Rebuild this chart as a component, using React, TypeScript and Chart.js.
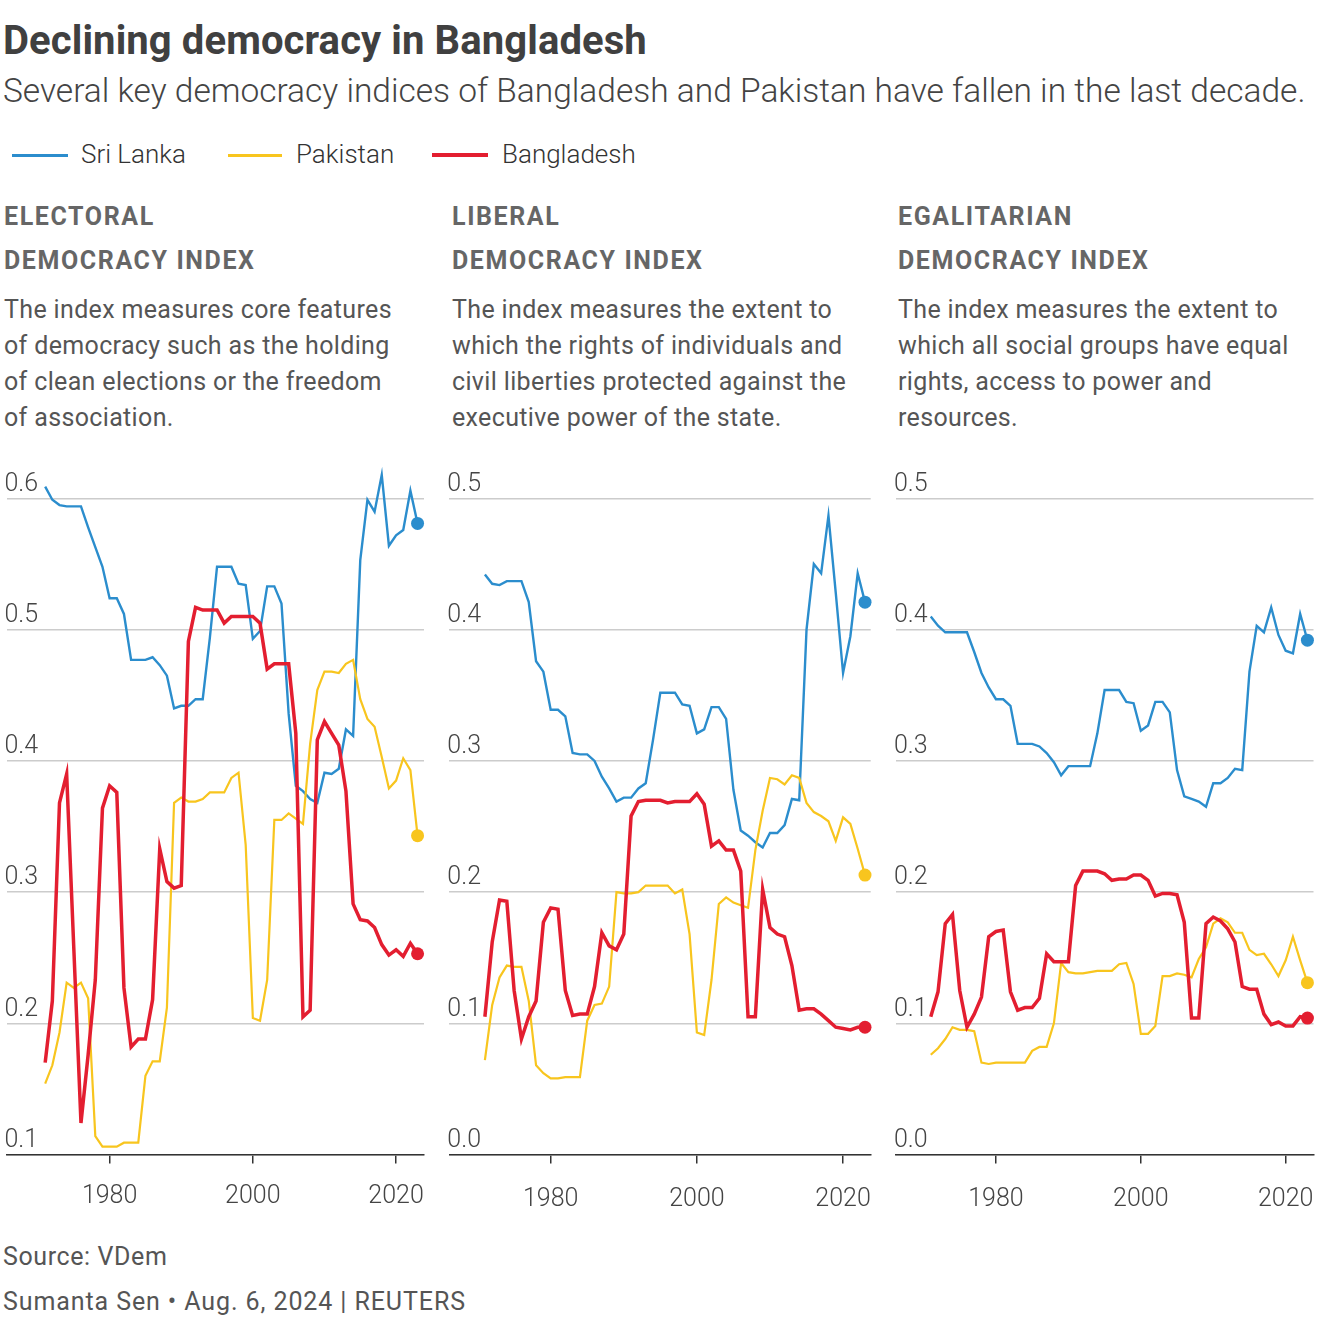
import React, { useEffect, useRef } from "react";
import { Chart, registerables } from "chart.js";

Chart.register(...registerables);

// ---------- DATA ----------
const years = [
  1971, 1972, 1973, 1974, 1975, 1976, 1977, 1978, 1979, 1980,
  1981, 1982, 1983, 1984, 1985, 1986, 1987, 1988, 1989, 1990,
  1991, 1992, 1993, 1994, 1995, 1996, 1997, 1998, 1999, 2000,
  2001, 2002, 2003, 2004, 2005, 2006, 2007, 2008, 2009, 2010,
  2011, 2012, 2013, 2014, 2015, 2016, 2017, 2018, 2019, 2020,
  2021, 2022, 2023,
];

const xTickYears = [1980, 2000, 2020];
const electoralYTicks = [0.1, 0.2, 0.3, 0.4, 0.5, 0.6];
const otherYTicks = [0.0, 0.1, 0.2, 0.3, 0.4, 0.5];

const electoralSriLanka = [
  0.609, 0.599, 0.595, 0.594, 0.594, 0.594, 0.578, 0.563, 0.548, 0.524,
  0.524, 0.512, 0.477, 0.477, 0.477, 0.479, 0.473, 0.465, 0.440, 0.442,
  0.442, 0.447, 0.447, 0.494, 0.548, 0.548, 0.548, 0.535, 0.534, 0.493,
  0.499, 0.533, 0.533, 0.520, 0.436, 0.381, 0.377, 0.371, 0.368, 0.391,
  0.390, 0.394, 0.424, 0.419, 0.553, 0.599, 0.590, 0.618, 0.564, 0.572,
  0.576, 0.606, 0.581,
];
const electoralPakistan = [
  0.154, 0.168, 0.193, 0.231, 0.227, 0.231, 0.219, 0.114, 0.106, 0.106,
  0.106, 0.109, 0.109, 0.109, 0.160, 0.171, 0.171, 0.212, 0.368, 0.372,
  0.369, 0.369, 0.371, 0.376, 0.376, 0.376, 0.387, 0.391, 0.336, 0.204,
  0.202, 0.233, 0.355, 0.355, 0.360, 0.356, 0.352, 0.413, 0.454, 0.468,
  0.468, 0.467, 0.474, 0.477, 0.447, 0.432, 0.426, 0.403, 0.379, 0.385,
  0.402, 0.393, 0.343,
];
const electoralBangladesh = [
  0.170, 0.217, 0.368, 0.390, 0.257, 0.124, 0.176, 0.233, 0.364, 0.381,
  0.376, 0.227, 0.182, 0.188, 0.188, 0.218, 0.333, 0.308, 0.303, 0.305,
  0.491, 0.517, 0.515, 0.515, 0.515, 0.505, 0.510, 0.510, 0.510, 0.510,
  0.505, 0.470, 0.474, 0.474, 0.474, 0.421, 0.205, 0.210, 0.416, 0.430,
  0.421, 0.412, 0.377, 0.291, 0.279, 0.278, 0.273, 0.260, 0.252, 0.256,
  0.251, 0.261, 0.253,
];

const liberalSriLanka = [
  0.442, 0.435, 0.434, 0.437, 0.437, 0.437, 0.421, 0.376, 0.368, 0.339,
  0.339, 0.334, 0.306, 0.305, 0.305, 0.300, 0.288, 0.279, 0.269, 0.272,
  0.272, 0.279, 0.283, 0.316, 0.352, 0.352, 0.352, 0.343, 0.342, 0.321,
  0.324, 0.341, 0.341, 0.332, 0.278, 0.247, 0.243, 0.238, 0.234, 0.245,
  0.245, 0.251, 0.271, 0.270, 0.400, 0.450, 0.443, 0.487, 0.428, 0.367,
  0.395, 0.443, 0.421,
];
const liberalPakistan = [
  0.072, 0.114, 0.135, 0.144, 0.143, 0.143, 0.117, 0.068, 0.062, 0.058,
  0.058, 0.059, 0.059, 0.059, 0.102, 0.114, 0.115, 0.128, 0.200, 0.199,
  0.199, 0.200, 0.205, 0.205, 0.205, 0.205, 0.199, 0.202, 0.168, 0.093,
  0.091, 0.133, 0.191, 0.196, 0.192, 0.190, 0.188, 0.232, 0.262, 0.287,
  0.286, 0.282, 0.289, 0.287, 0.268, 0.261, 0.258, 0.254, 0.239, 0.257,
  0.252, 0.233, 0.213,
];
const liberalBangladesh = [
  0.105, 0.162, 0.194, 0.193, 0.125, 0.088, 0.105, 0.117, 0.177, 0.188,
  0.187, 0.125, 0.106, 0.107, 0.107, 0.128, 0.169, 0.159, 0.156, 0.168,
  0.258, 0.269, 0.270, 0.270, 0.270, 0.268, 0.269, 0.269, 0.269, 0.275,
  0.267, 0.235, 0.239, 0.232, 0.232, 0.216, 0.105, 0.105, 0.202, 0.173,
  0.168, 0.166, 0.144, 0.110, 0.111, 0.111, 0.107, 0.102, 0.097, 0.096,
  0.095, 0.097, 0.097,
];

const egalitarianSriLanka = [
  0.410, 0.403, 0.398, 0.398, 0.398, 0.398, 0.383, 0.367, 0.356, 0.347,
  0.347, 0.342, 0.313, 0.313, 0.313, 0.311, 0.306, 0.299, 0.289, 0.296,
  0.296, 0.296, 0.296, 0.321, 0.354, 0.354, 0.354, 0.345, 0.344, 0.323,
  0.327, 0.345, 0.345, 0.337, 0.293, 0.273, 0.271, 0.269, 0.265, 0.283,
  0.283, 0.287, 0.294, 0.293, 0.368, 0.403, 0.398, 0.417, 0.396, 0.384,
  0.382, 0.412, 0.392,
];
const egalitarianPakistan = [
  0.076, 0.081, 0.088, 0.097, 0.095, 0.095, 0.094, 0.070, 0.069, 0.070,
  0.070, 0.070, 0.070, 0.070, 0.079, 0.082, 0.082, 0.100, 0.146, 0.139,
  0.138, 0.138, 0.139, 0.140, 0.140, 0.140, 0.145, 0.146, 0.130, 0.092,
  0.092, 0.098, 0.136, 0.136, 0.138, 0.137, 0.135, 0.149, 0.158, 0.176,
  0.180, 0.177, 0.169, 0.169, 0.156, 0.152, 0.153, 0.145, 0.136, 0.148,
  0.166, 0.148, 0.131,
];
const egalitarianBangladesh = [
  0.105, 0.124, 0.176, 0.183, 0.125, 0.097, 0.107, 0.120, 0.166, 0.170,
  0.171, 0.124, 0.110, 0.112, 0.112, 0.119, 0.153, 0.147, 0.147, 0.147,
  0.205, 0.216, 0.216, 0.216, 0.214, 0.209, 0.210, 0.210, 0.213, 0.213,
  0.209, 0.197, 0.199, 0.199, 0.198, 0.177, 0.104, 0.104, 0.176, 0.181,
  0.178, 0.172, 0.162, 0.128, 0.126, 0.126, 0.107, 0.099, 0.101, 0.098,
  0.098, 0.105, 0.104,
];

// ---------- STYLE ----------
const BLUE = "#2b8dcd";
const YELLOW = "#f8c51e";
const RED = "#e31e30";
const FONT = "Roboto, 'Noto Sans', sans-serif";

const CANVAS_TOP = 460;
const CANVAS_H = 760;
const CHART_TOP = 498.5;
const CHART_BOTTOM = 1154.5;

type PanelProps = {
  canvasLeft: number;
  canvasWidth: number;
  chartLeft: number;
  chartRight: number;
  xMin: number;
  xMax: number;
  yMin: number;
  yMax: number;
  yTicks: number[];
  xLabelPad: number;
  sri: number[];
  pak: number[];
  ban: number[];
};

function Panel(p: PanelProps) {
  const ref = useRef<HTMLCanvasElement>(null);
  useEffect(() => {
    if (!ref.current) return;
    const last = years.length - 1;
    const mk = (label: string, data: number[], color: string, width: number, order: number) => ({
      label,
      data: years.map((y, i) => ({ x: y, y: data[i] })),
      borderColor: color,
      backgroundColor: color,
      borderWidth: width,
      pointRadius: (ctx: any) => (ctx.dataIndex === last ? 6.5 : 0),
      pointHoverRadius: 0,
      pointBorderWidth: 0,
      tension: 0,
      clip: false as any,
      order,
      borderJoinStyle: "miter" as const,
    });
    const chart = new Chart(ref.current, {
      type: "line",
      data: {
        datasets: [
          mk("Bangladesh", p.ban, RED, 3.5, 0),
          mk("Pakistan", p.pak, YELLOW, 2.2, 1),
          mk("Sri Lanka", p.sri, BLUE, 2.4, 2),
        ],
      },
      options: {
        animation: false,
        responsive: false,
        maintainAspectRatio: false,
        events: [],
        layout: {
          padding: {
            left: p.chartLeft - p.canvasLeft,
            right: p.canvasLeft + p.canvasWidth - p.chartRight,
            top: CHART_TOP - CANVAS_TOP,
            bottom: 0,
          },
        },
        plugins: { legend: { display: false }, tooltip: { enabled: false } },
        scales: {
          x: {
            type: "linear",
            min: p.xMin,
            max: p.xMax,
            afterBuildTicks: (s: any) => {
              s.ticks = xTickYears.map((v) => ({ value: v }));
            },
            afterFit: (s: any) => {
              s.height = CANVAS_TOP + CANVAS_H - CHART_BOTTOM;
              s.paddingLeft = 0;
              s.paddingRight = 0;
            },
            grid: {
              drawOnChartArea: false,
              drawTicks: true,
              tickLength: 9,
              color: "#333",
              lineWidth: 1.5,
            },
            border: { display: true, color: "#333", width: 1.5, z: 1 },
            ticks: {
              autoSkip: false,
              maxRotation: 0,
              padding: p.xLabelPad,
              color: "#444",
              font: { family: FONT, size: 25, weight: "300" as any },
              callback: (v: any) => String(v),
            },
          },
          y: {
            type: "linear",
            min: p.yMin,
            max: p.yMax,
            afterBuildTicks: (s: any) => {
              s.ticks = p.yTicks.map((v) => ({ value: v }));
            },
            afterFit: (s: any) => {
              s.width = 0;
            },
            grid: { drawTicks: false, color: "#cccccc", lineWidth: 1.5 },
            border: { display: false },
            ticks: {
              mirror: true,
              padding: -2,
              labelOffset: -14,
              color: "#444",
              font: { family: FONT, size: 25, weight: "300" as any },
              callback: (v: any) => Number(v).toFixed(1),
            },
          },
        },
      },
    });
    return () => chart.destroy();
  }, []);
  return (
    <canvas
      ref={ref}
      width={p.canvasWidth}
      height={CANVAS_H}
      style={{
        position: "absolute",
        left: p.canvasLeft,
        top: CANVAS_TOP,
        width: p.canvasWidth,
        height: CANVAS_H,
      }}
    />
  );
}

// Text helper positioned by baseline (Roboto metrics)
function T(props: {
  x: number;
  baseline: number;
  size: number;
  weight?: number;
  color?: string;
  children: React.ReactNode;
  spacing?: number;
}) {
  const { x, baseline, size, weight = 400, color = "#555", children, spacing = 0 } = props;
  return (
    <div
      style={{
        position: "absolute",
        left: x,
        top: baseline - 0.842 * size,
        fontFamily: FONT,
        fontSize: size,
        lineHeight: `${size}px`,
        fontWeight: weight,
        color,
        whiteSpace: "nowrap",
        letterSpacing: spacing,
      }}
    >
      {children}
    </div>
  );
}

const panelTexts = [
  {
    x: 4,
    h1: "ELECTORAL",
    h2: "DEMOCRACY INDEX",
    lines: [
      "The index measures core features",
      "of democracy such as the holding",
      "of clean elections or the freedom",
      "of association.",
    ],
  },
  {
    x: 452,
    h1: "LIBERAL",
    h2: "DEMOCRACY INDEX",
    lines: [
      "The index measures the extent to",
      "which the rights of individuals and",
      "civil liberties protected against the",
      "executive power of the state.",
    ],
  },
  {
    x: 898,
    h1: "EGALITARIAN",
    h2: "DEMOCRACY INDEX",
    lines: [
      "The index measures the extent to",
      "which all social groups have equal",
      "rights, access to power and",
      "resources.",
    ],
  },
];

const legendItems = [
  { label: "Sri Lanka", color: BLUE, x1: 12, x2: 68, tx: 81, h: 3 },
  { label: "Pakistan", color: YELLOW, x1: 228, x2: 282, tx: 296, h: 3 },
  { label: "Bangladesh", color: RED, x1: 432, x2: 488, tx: 502, h: 4 },
];

export default function App() {
  return (
    <div
      style={{
        position: "absolute",
        left: 0,
        top: 0,
        width: 1320,
        height: 1340,
        background: "#fff",
        overflow: "hidden",
      }}
    >
      <T x={3} baseline={55} size={40} weight={700} color="#404040" spacing={0.1}>
        Declining democracy in Bangladesh
      </T>
      <T x={3} baseline={102} size={33.5} weight={300} color="#444">
        Several key democracy indices of Bangladesh and Pakistan have fallen in the last decade.
      </T>

      {legendItems.map((l) => (
        <React.Fragment key={l.label}>
          <div
            style={{
              position: "absolute",
              left: l.x1,
              top: 155 - l.h / 2,
              width: l.x2 - l.x1,
              height: l.h,
              background: l.color,
            }}
          />
          <T x={l.tx} baseline={163} size={26} weight={300} color="#333">
            {l.label}
          </T>
        </React.Fragment>
      ))}

      {panelTexts.map((pt) => (
        <React.Fragment key={pt.h1}>
          <T x={pt.x} baseline={225} size={25} weight={700} color="#666" spacing={1.6}>
            {pt.h1}
          </T>
          <T x={pt.x} baseline={269} size={25} weight={700} color="#666" spacing={1.6}>
            {pt.h2}
          </T>
          {pt.lines.map((ln, i) => (
            <T key={i} x={pt.x} baseline={318 + i * 36} size={25} weight={400} color="#555" spacing={0.35}>
              {ln}
            </T>
          ))}
        </React.Fragment>
      ))}

      <Panel
        canvasLeft={0}
        canvasWidth={440}
        chartLeft={3}
        chartRight={424}
        xMin={1965.6}
        xMax={2023.9}
        yMin={0.1}
        yMax={0.6}
        yTicks={electoralYTicks}
        xLabelPad={18}
        sri={electoralSriLanka}
        pak={electoralPakistan}
        ban={electoralBangladesh}
      />
      <Panel
        canvasLeft={440}
        canvasWidth={445}
        chartLeft={449.3}
        chartRight={870.7}
        xMin={1966.13}
        xMax={2023.78}
        yMin={0}
        yMax={0.5}
        yTicks={otherYTicks}
        xLabelPad={21}
        sri={liberalSriLanka}
        pak={liberalPakistan}
        ban={liberalBangladesh}
      />
      <Panel
        canvasLeft={885}
        canvasWidth={435}
        chartLeft={896}
        chartRight={1316.7}
        xMin={1966.2}
        xMax={2023.84}
        yMin={0}
        yMax={0.5}
        yTicks={otherYTicks}
        xLabelPad={21}
        sri={egalitarianSriLanka}
        pak={egalitarianPakistan}
        ban={egalitarianBangladesh}
      />

      <T x={3} baseline={1265} size={25} weight={400} color="#555" spacing={0.6}>
        Source: VDem
      </T>
      <T x={3} baseline={1310} size={25} weight={400} color="#555" spacing={0.9}>
        Sumanta Sen • Aug. 6, 2024 | REUTERS
      </T>
    </div>
  );
}
